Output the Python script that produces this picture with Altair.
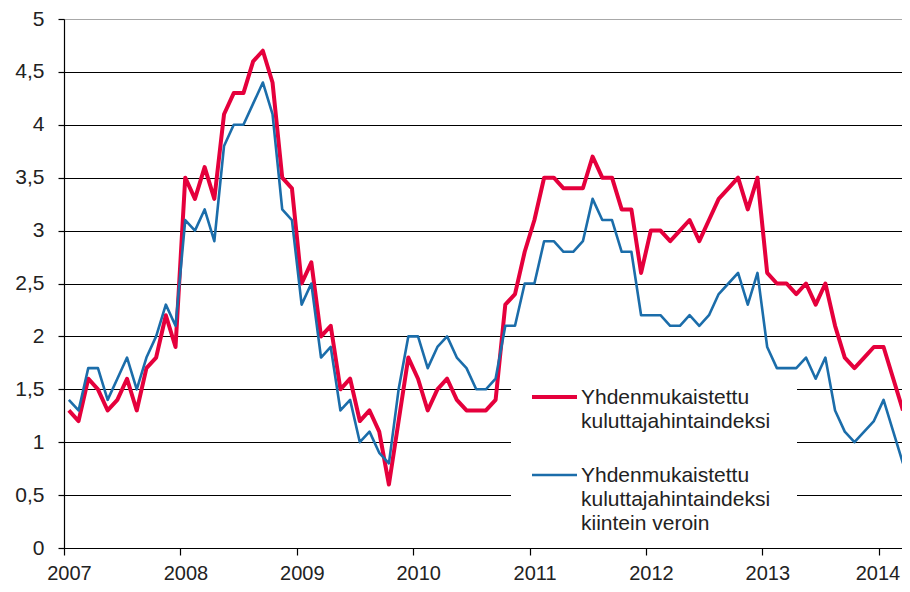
import altair as alt
import pandas as pd

# Monthly values, Jan 2007 - Mar 2014
hicp = [
    1.3, 1.2, 1.6, 1.5, 1.3, 1.4, 1.6, 1.3, 1.7, 1.8, 2.2, 1.9,   # 2007
    3.5, 3.3, 3.6, 3.3, 4.1, 4.3, 4.3, 4.6, 4.7, 4.4, 3.5, 3.4,   # 2008
    2.5, 2.7, 2.0, 2.1, 1.5, 1.6, 1.2, 1.3, 1.1, 0.6, 1.2, 1.8,   # 2009
    1.6, 1.3, 1.5, 1.6, 1.4, 1.3, 1.3, 1.3, 1.4, 2.3, 2.4, 2.8,   # 2010
    3.1, 3.5, 3.5, 3.4, 3.4, 3.4, 3.7, 3.5, 3.5, 3.2, 3.2, 2.6,   # 2011
    3.0, 3.0, 2.9, 3.0, 3.1, 2.9, 3.1, 3.3, 3.4, 3.5, 3.2, 3.5,   # 2012
    2.6, 2.5, 2.5, 2.4, 2.5, 2.3, 2.5, 2.1, 1.8, 1.7, 1.8, 1.9,   # 2013
    1.9, 1.6, 1.3,                                                 # 2014
]
hicp_ct = [
    1.4, 1.3, 1.7, 1.7, 1.4, 1.6, 1.8, 1.5, 1.8, 2.0, 2.3, 2.1,   # 2007
    3.1, 3.0, 3.2, 2.9, 3.8, 4.0, 4.0, 4.2, 4.4, 4.1, 3.2, 3.1,   # 2008
    2.3, 2.5, 1.8, 1.9, 1.3, 1.4, 1.0, 1.1, 0.9, 0.8, 1.5, 2.0,   # 2009
    2.0, 1.7, 1.9, 2.0, 1.8, 1.7, 1.5, 1.5, 1.6, 2.1, 2.1, 2.5,   # 2010
    2.5, 2.9, 2.9, 2.8, 2.8, 2.9, 3.3, 3.1, 3.1, 2.8, 2.8, 2.2,   # 2011
    2.2, 2.2, 2.1, 2.1, 2.2, 2.1, 2.2, 2.4, 2.5, 2.6, 2.3, 2.6,   # 2012
    1.9, 1.7, 1.7, 1.7, 1.8, 1.6, 1.8, 1.3, 1.1, 1.0, 1.1, 1.2,   # 2013
    1.4, 1.1, 0.8,                                                 # 2014
]
years = [2007, 2008, 2009, 2010, 2011, 2012, 2013, 2014]
y_ticks = [0, 0.5, 1, 1.5, 2, 2.5, 3, 3.5, 4, 4.5, 5]
legend_red = ["Yhdenmukaistettu", "kuluttajahintaindeksi"]
legend_blue = ["Yhdenmukaistettu", "kuluttajahintaindeksi", "kiintein veroin"]

RED = "#E5003C"
BLUE = "#1B6DAA"
FONT = "Liberation Sans"
TXT = "#222222"

n = len(hicp)
df = pd.DataFrame({
    "m": [i + 0.5 for i in range(n)],
    "hicp": hicp,
    "hicp_ct": hicp_ct,
})

W, H = 838, 529
last_tick = (years[-1] - 2007) * 12

x_enc = alt.X(
    "m:Q",
    scale=alt.Scale(domain=[0, 86.4], nice=False, zero=False),
    axis=alt.Axis(
        values=[(y - 2007) * 12 for y in years],
        labelExpr="'' + (2007 + datum.value / 12)",
        grid=False, title=None, tickSize=7, labelPadding=8,
        labelAlign={"condition": {"test": f"datum.value === {last_tick}", "value": "right"}, "value": "center"},
        labelOffset={"condition": {"test": f"datum.value === {last_tick}", "value": 21}, "value": 5},
        labelFlush=False, labelOverlap=False,
        domainColor="#000", tickColor="#000", domainWidth=1.2, tickWidth=1.2,
        labelFont=FONT, labelFontSize=20, labelColor=TXT,
    ),
)
y_axis = alt.Axis(
    values=y_ticks,
    labelExpr="replace('' + datum.value, '.', ',')",
    grid=True,
    gridColor={"condition": {"test": "datum.value === 5", "value": "#a8a8a8"}, "value": "#000"},
    gridWidth=1.2,
    title=None, tickSize=6, labelPadding=14,
    domainColor="#000", tickColor="#000", domainWidth=1.2, tickWidth=1.2,
    labelFont=FONT, labelFontSize=21, labelColor=TXT,
)

base = alt.Chart(df)

red_line = base.mark_line(color=RED, strokeWidth=4, strokeJoin="round").encode(
    x=x_enc,
    y=alt.Y("hicp:Q", scale=alt.Scale(domain=[0, 5], nice=False), axis=y_axis),
)
blue_line = base.mark_line(color=BLUE, strokeWidth=2.6, strokeJoin="round").encode(
    x=alt.X("m:Q"),
    y=alt.Y("hicp_ct:Q"),
)

one = pd.DataFrame({"a": [0]})

# legend box (white background covering gridlines)
box = alt.Chart(one).mark_rect(color="white").encode(
    x=alt.value(447), x2=alt.value(733), y=alt.value(343), y2=alt.value(522)
)

leg_red = alt.Chart(one).mark_rule(color=RED, strokeWidth=4).encode(
    x=alt.value(468), x2=alt.value(513), y=alt.value(378)
)
leg_blue = alt.Chart(one).mark_rule(color=BLUE, strokeWidth=2.6).encode(
    x=alt.value(468), x2=alt.value(513), y=alt.value(456)
)

texts = []
for k, line in enumerate(legend_red):
    texts.append(
        alt.Chart(one).mark_text(
            align="left", baseline="middle", font=FONT, fontSize=21, color=TXT
        ).encode(x=alt.value(517), y=alt.value(379 + 24 * k), text=alt.value(line))
    )
for k, line in enumerate(legend_blue):
    texts.append(
        alt.Chart(one).mark_text(
            align="left", baseline="middle", font=FONT, fontSize=21, color=TXT
        ).encode(x=alt.value(517), y=alt.value(457 + 24 * k), text=alt.value(line))
    )

chart = alt.layer(box, red_line, blue_line, leg_red, leg_blue, *texts).properties(
    width=W, height=H,
    autosize=alt.AutoSizeParams(type="none"),
    padding={"left": 56, "top": 11, "right": 0, "bottom": 36},
    background="white",
).configure_view(stroke="#a8a8a8", strokeWidth=1)

chart.save("out.html", embed_options={"renderer": "svg", "actions": False})
